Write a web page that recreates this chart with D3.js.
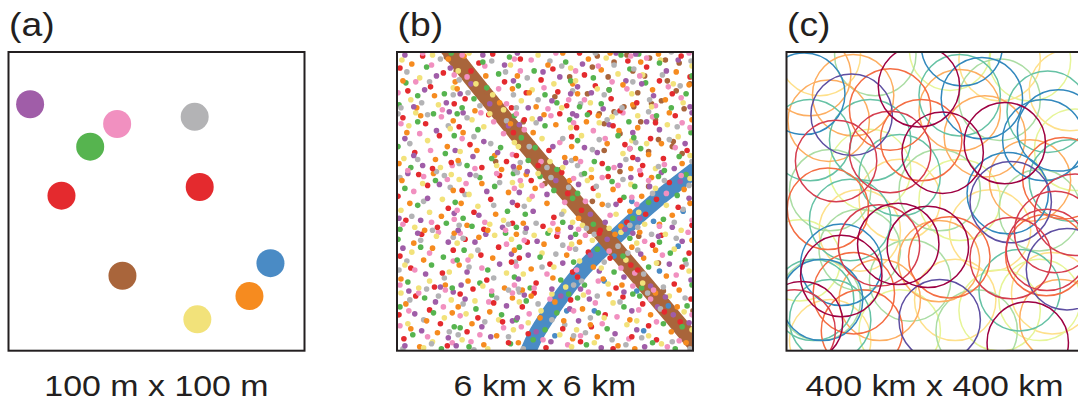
<!DOCTYPE html>
<html><head><meta charset="utf-8">
<script src="https://cdn.jsdelivr.net/npm/d3@7"></script>
<style>html,body{margin:0;padding:0;background:#fff;}svg{display:block}</style>
</head><body><svg id="chart" width="1078" height="402"></svg>
<script>
// ---------------- DATA ----------------
const panelLabels = ["(a)", "(b)", "(c)"];
const extentLabels = ["100 m x 100 m", "6 km x 6 km", "400 km x 400 km"];

// Panel (a): individual locations, metres (x east, y north) in a 100 m x 100 m plot
const aColorKeys = ["purple", "pink", "gray", "green", "red", "red", "brown", "blue", "orange", "yellow"];
const aX = [7.3, 36.7, 62.9, 27.6, 17.9, 64.6, 38.5, 88.5, 81.4, 63.8];
const aY = [82.5, 75.9, 78.3, 68.3, 51.9, 54.8, 25.1, 29.3, 18.3, 10.5];

// Panel (b): fixes per individual, in 20 m grid units (0-300 = 6 km), flat x,y pairs
const bRed = [7,12,33,41,51,5,19,55,44,27,2,36,71,19,98,48,113,8,82,33,64,57,107,29,127,44,151,3,168,22,139,58,176,51,133,17,186,9,211,36,229,54,197,24,238,14,219,2,249,47,263,11,287,29,298,52,271,39,255,25,
14,83,38,64,57,101,25,117,3,95,46,78,69,112,91,71,116,89,77,62,103,104,85,96,141,68,162,115,124,93,178,79,155,87,132,109,194,99,222,63,205,118,237,86,183,74,216,93,259,106,281,67,296,98,244,81,268,116,289,84,
9,131,31,166,52,143,22,177,41,124,1,155,78,139,104,176,117,128,66,161,95,152,88,122,136,171,159,134,173,158,122,146,148,125,167,179,199,163,233,129,187,141,214,175,226,151,206,121,252,137,276,169,299,126,263,152,285,144,247,177,
18,199,43,216,6,234,55,189,29,228,36,183,74,207,111,190,93,237,63,225,118,219,86,184,129,232,154,201,177,215,143,186,165,238,121,196,182,224,208,188,231,207,195,239,219,226,239,194,257,213,282,236,249,186,294,201,270,193,262,229,
11,261,47,279,26,296,58,248,3,284,34,265,83,289,69,253,109,270,97,298,116,244,75,281,131,259,158,283,172,246,146,272,125,293,163,260,190,277,217,253,234,291,201,266,226,241,185,299,253,285,279,258,297,275,243,249,266,271,288,296];
const bOrange = [23,4,9,47,41,18,56,38,30,30,14,22,88,6,62,44,117,53,101,15,76,27,94,39,145,33,123,8,160,49,178,12,136,55,169,30,203,14,188,42,236,31,215,57,224,5,196,26,241,2,278,19,262,58,293,8,257,36,284,44,
4,72,27,91,49,66,17,108,58,118,36,103,83,114,63,86,109,63,97,93,72,70,119,101,127,61,172,96,149,107,136,82,158,73,121,117,209,72,185,109,238,104,199,84,228,66,221,117,250,93,273,75,299,111,286,61,246,119,262,101,
13,148,45,135,28,121,5,171,57,161,37,178,71,126,113,159,86,168,100,137,65,148,92,121,152,148,128,128,175,171,140,163,163,122,131,177,184,133,219,162,197,174,236,140,208,147,227,125,266,127,248,155,291,162,279,136,258,174,297,148,
2,188,24,236,51,205,39,192,10,219,57,231,99,196,67,219,115,228,81,201,106,182,62,191,138,219,170,194,124,184,161,227,149,237,177,205,213,208,192,230,237,183,181,193,225,221,204,236,244,224,289,188,268,208,299,232,255,197,276,239,
20,244,52,293,6,271,38,256,59,270,15,288,68,296,104,249,90,276,117,263,79,241,61,263,122,276,168,299,141,245,178,268,153,287,134,259,207,282,183,258,229,267,194,293,239,247,216,299,272,252,247,290,296,267,259,262,283,280,265,298];
const bYellow = [36,9,11,27,55,51,27,3,48,33,4,58,66,11,103,31,79,50,118,21,92,2,70,37,133,28,157,57,177,4,124,49,165,16,146,40,182,21,219,48,200,8,233,26,189,56,210,33,268,7,243,30,291,39,276,55,255,15,299,21,
22,63,8,86,53,79,40,115,15,99,33,70,75,95,111,78,61,108,99,116,87,65,116,112,147,98,128,77,171,64,139,116,177,107,159,84,198,111,232,91,214,67,185,90,227,119,207,83,281,102,249,68,296,80,263,88,243,108,272,117,
46,152,18,124,4,141,33,139,55,177,26,168,108,131,82,145,63,172,117,169,94,127,73,157,134,152,169,140,126,166,155,121,143,178,178,129,204,156,188,126,237,167,222,137,193,171,215,123,245,139,288,121,262,163,297,173,273,146,251,127,
31,211,7,193,54,223,19,239,44,184,12,226,88,225,64,200,101,186,119,209,76,232,94,238,147,213,123,205,168,184,137,233,176,224,155,190,229,198,187,216,205,229,238,211,197,182,218,235,262,183,285,215,244,236,297,196,253,208,274,227,
42,247,5,292,23,274,57,264,14,252,36,297,62,281,97,257,115,287,80,268,108,242,73,299,159,268,126,251,176,284,143,297,137,262,167,244,196,249,224,278,181,271,212,294,238,258,203,263,249,277,290,249,267,292,280,268,258,245,299,286];
const bGreen = [16,16,45,2,3,44,28,53,58,24,37,38,80,42,115,7,64,23,96,56,106,36,73,4,162,38,138,11,121,31,174,57,150,21,131,50,230,44,192,6,213,22,183,53,239,57,204,38,282,2,246,55,270,27,294,45,259,8,289,24,
35,86,1,112,56,63,11,69,24,104,47,94,92,81,68,101,110,118,84,68,119,74,61,91,166,71,124,104,153,118,135,63,179,89,145,94,190,66,236,113,203,102,220,79,181,117,229,95,248,63,292,91,266,109,255,84,277,98,299,66,
39,171,8,163,50,128,21,146,59,149,3,122,84,174,112,140,67,133,99,165,76,125,118,178,178,153,130,137,145,175,159,161,121,124,168,129,218,170,183,158,199,127,230,154,190,178,239,133,241,165,270,132,293,177,255,149,284,156,265,175,
49,198,21,230,37,238,1,205,58,216,14,184,105,204,71,186,119,236,82,222,61,238,96,193,175,232,133,191,150,226,126,214,162,182,140,204,200,190,235,230,183,211,214,183,224,216,193,237,271,181,247,203,298,219,263,236,286,195,240,214,
9,269,48,258,30,285,55,299,2,247,21,256,91,264,114,295,66,244,103,278,87,290,78,253,150,257,171,290,123,266,139,281,162,249,176,271,215,262,185,245,236,283,199,274,227,297,207,248,293,258,252,269,278,244,266,289,245,298,299,276];
const bPurple = [52,13,25,20,8,5,39,49,18,37,57,59,60,5,86,24,111,45,69,52,95,14,117,30,141,19,175,42,129,56,156,9,122,33,166,55,221,17,195,52,184,30,238,40,207,3,230,59,264,44,296,28,251,4,280,36,243,21,272,54,
29,77,52,109,6,103,44,64,12,60,21,118,104,87,79,109,65,66,116,97,90,117,71,79,176,114,133,96,157,62,123,72,168,88,142,110,213,112,186,62,230,74,196,96,239,118,205,80,289,110,257,65,247,97,276,87,298,71,265,115,
24,131,58,138,11,178,43,167,31,153,2,133,91,160,62,121,117,149,74,177,107,124,83,136,124,159,161,171,138,140,176,124,152,157,131,123,237,174,211,129,184,167,222,147,196,137,231,122,256,165,279,124,246,133,296,153,268,179,287,170,
8,213,26,186,53,240,40,221,17,196,59,201,77,195,113,226,88,210,67,239,102,199,118,185,158,205,124,227,171,189,145,233,132,180,178,238,190,204,226,186,215,227,182,236,239,219,203,199,253,230,292,208,281,183,244,192,266,222,299,239,
28,262,54,284,8,297,40,276,17,245,50,249,75,268,109,287,64,258,94,248,118,271,87,297,148,280,133,244,176,258,122,299,165,275,157,251,232,271,188,288,209,243,222,299,197,259,183,265,260,256,285,292,248,268,297,245,273,281,242,298];
const bPink = [3,25,31,14,47,44,22,58,56,8,12,40,93,49,75,9,64,35,108,23,117,58,84,16,155,52,173,6,134,37,126,24,148,11,179,40,201,48,235,12,186,15,223,34,208,27,194,59,245,41,286,10,257,52,274,4,299,36,263,29,
18,81,42,119,57,90,3,66,33,98,49,61,64,118,96,60,72,91,111,107,86,83,119,66,152,77,121,85,175,103,163,119,139,63,129,111,182,81,215,100,239,65,191,116,227,83,204,70,241,78,295,119,269,96,251,110,283,76,260,61,
6,127,51,172,35,129,17,160,58,132,27,175,61,141,89,129,119,163,101,178,70,168,110,121,147,166,170,149,125,171,158,128,137,155,179,173,191,150,208,174,238,154,184,122,224,166,216,136,273,158,243,147,299,131,288,176,255,171,266,125,
34,201,4,228,56,186,23,218,45,235,11,181,66,213,98,230,117,197,79,183,108,218,85,239,129,222,165,209,146,190,179,229,121,238,156,236,199,221,229,239,186,190,236,203,211,213,220,184,259,235,282,204,246,181,297,224,271,187,289,229,
35,287,1,259,19,270,58,277,46,242,26,299,103,263,71,275,111,248,89,286,66,297,119,293,125,281,149,264,174,252,136,292,161,299,153,243,233,263,204,286,190,252,218,270,181,281,237,296,275,265,253,294,296,299,262,246,288,254,246,276];
const bGray = [42,55,6,2,27,31,53,19,13,51,35,7,113,14,67,47,89,29,101,53,62,16,78,1,128,2,170,26,143,47,157,31,124,59,179,15,196,33,232,6,191,18,218,11,226,49,203,55,248,13,292,53,267,42,279,9,254,58,297,2,
10,90,48,73,30,62,57,114,2,81,24,111,98,73,120,89,67,113,82,101,113,61,73,84,130,119,161,97,179,66,147,84,123,62,168,106,234,98,200,117,187,70,224,105,210,89,181,102,270,64,244,101,293,87,258,117,283,113,250,77,
15,135,36,121,54,164,3,174,27,150,48,176,98,146,69,157,113,127,80,176,104,169,63,126,141,128,174,164,156,174,129,145,167,137,122,179,214,146,236,126,187,177,202,165,229,172,192,123,259,158,290,142,244,124,271,171,296,166,281,129,
21,192,52,226,1,238,40,180,13,208,31,237,111,231,78,215,63,188,95,208,119,182,71,234,177,191,141,229,125,189,168,213,134,205,152,184,213,232,183,186,198,202,232,192,222,239,205,212,284,225,265,185,242,209,299,190,255,240,276,212,
57,257,25,249,10,280,44,293,33,270,4,244,118,257,63,272,84,246,96,291,110,280,72,259,178,261,132,274,155,291,143,252,121,244,167,286,186,248,220,287,239,270,201,299,210,257,228,244,287,266,240,283,269,277,256,252,298,291,278,300];
const bBrownFixes = [91,260,120,222,60,281,150,168,108,236,210,228,180,154,230,98,255,200,270,60,166,182,137,208,220,240,78,270,245,115,285,30,198,150,226,180,160,255,265,88,300,40,175,275,240,245,128,230,195,120,255,165,100,190,212,110,280,210,50,295,
198,285,215,262,233,297,251,276,268,251,286,289,205,238,226,218,244,259,262,232,279,205,297,268,210,201,239,281,256,294,274,271,291,243,220,290,247,230,265,212,283,261,193,258,230,245,272,292,300,222,214,275,258,248,236,203,289,198,203,296];
const bBlueFixes = [220,95,243,60,200,40,260,130,275,45,230,128,195,92,285,105,250,20,210,70,172,40,160,15,238,150,290,140,266,80];
// dense movement tracks (centre lines of the two bands)
const brownTrack = [44,315, 51,305, 135,202, 206,120, 297,13, 312,-5];
const blueTrack = [312,189, 264,152, 219,112, 185,78, 142,18, 129,-11];

// Panel (c): home-range circle centres per colour, km (0-400), radius in km
const homeRangeRadiusKm = 55;
const cYellow = [45,396, 288,389, 153,202, 228,68, 359,77, 59,14, 383,349, 275,161, 99,161];
const cYellowGreen = [221,403, 113,242, 288,54, 342,68, 234,202, 18,121, 329,389, 153,27, 390,269];
const cLightGreen = [120,396, 59,215, 257,27, 207,215, 342,188, 99,135, 45,68, 288,336, 167,94];
const cLightOrange = [57,308, 90,342, 268,287, 206,120, 234,322, 32,369, 329,228, 126,68, 370,41];
const cTeal = [32,282, 113,282, 36,68, 353,320, 153,235, 315,81, 234,342, 59,41, 383,228, 86,175];
const cOrange = [140,323, 56,190, 91,77, 220,125, 182,282, 351,128, 102,27, 374,231];
const cBlue = [264,338, 237,409, 299,211, 74,115, 367,295, 24,344, 48,68, 347,282];
const cPurple = [88,316, 207,41, 379,109, 303,199];
const cRed = [67,254, 140,266, 125,141, 303,124, 352,135, 363,159, 11,27, 390,182];
const cDarkRed = [179,354, 211,265, 295,278, 151,143, 191,139, 74,100, 326,11, 21,38];

// ---------------- STYLE ----------------
const pal = {red:"#e42a2e", orange:"#f68b1f", yellow:"#f2e27a", green:"#56b44f", purple:"#a05da8",
  pink:"#f190c0", gray:"#b3b3b5", brown:"#a9653b", blue:"#4a8bc5"};
const ink = "#231f20";
const fontFamily = '"Liberation Sans", Arial, Helvetica, sans-serif';
const panelLeft = [8.5, 397, 786.5], panelTop = 52, panelW = 296, panelH = 298.7;

const svg = d3.select("#chart");
const pairs = arr => d3.range(0, arr.length - 1, 2).map(i => [arr[i], arr[i + 1]]);

function stretchedText(x, y, str, anchor, size) {
  const t = svg.append("text").attr("x", x).attr("y", y)
    .attr("font-family", fontFamily).attr("font-size", size).attr("fill", ink)
    .attr("text-anchor", anchor).text(str);
  const w = t.node().getComputedTextLength();
  t.attr("textLength", w * 1.13).attr("lengthAdjust", "spacingAndGlyphs");
}

const defs = svg.append("defs");
panelLeft.forEach((l, i) => {
  defs.append("clipPath").attr("id", "clip" + i).append("rect")
    .attr("x", l).attr("y", panelTop).attr("width", panelW).attr("height", panelH);
});

// ---- Panel (a)
{
  const x = d3.scaleLinear().domain([0, 100]).range([panelLeft[0], panelLeft[0] + panelW]);
  const y = d3.scaleLinear().domain([0, 100]).range([panelTop + panelH, panelTop]);
  const g = svg.append("g").attr("clip-path", "url(#clip0)");
  g.selectAll("circle").data(d3.range(aX.length)).join("circle")
    .attr("cx", i => x(aX[i])).attr("cy", i => y(aY[i])).attr("r", 14)
    .attr("fill", i => pal[aColorKeys[i]]);
}

// ---- Panel (b)
{
  const x = d3.scaleLinear().domain([0, 300]).range([panelLeft[1], panelLeft[1] + panelW]);
  const y = d3.scaleLinear().domain([0, 300]).range([panelTop + panelH, panelTop]);
  const g = svg.append("g").attr("clip-path", "url(#clip1)");
  const line = d3.line().x(d => x(d[0])).y(d => y(d[1])).curve(d3.curveCatmullRom);
  g.append("path").attr("d", line(pairs(blueTrack))).attr("fill", "none")
    .attr("stroke", pal.blue).attr("stroke-width", 16);
  g.append("path").attr("d", line(pairs(brownTrack))).attr("fill", "none")
    .attr("stroke", pal.brown).attr("stroke-width", 17);
  const series = [
    {c: "red", p: pairs(bRed)}, {c: "gray", p: pairs(bGray)}, {c: "orange", p: pairs(bOrange)},
    {c: "purple", p: pairs(bPurple)}, {c: "yellow", p: pairs(bYellow)}, {c: "green", p: pairs(bGreen)},
    {c: "pink", p: pairs(bPink)}, {c: "brown", p: pairs(bBrownFixes)}, {c: "blue", p: pairs(bBlueFixes)}
  ];
  const dots = [];
  const maxLen = d3.max(series, s => s.p.length);
  for (let i = 0; i < maxLen; i++) series.forEach(s => { if (i < s.p.length) dots.push({p: s.p[i], c: s.c}); });
  g.selectAll("circle").data(dots).join("circle")
    .attr("cx", d => x(d.p[0])).attr("cy", d => y(d.p[1])).attr("r", 2.8)
    .attr("fill", d => pal[d.c]);
}

// ---- Panel (c)
{
  const x = d3.scaleLinear().domain([0, 400]).range([panelLeft[2], panelLeft[2] + panelW]);
  const y = d3.scaleLinear().domain([0, 400]).range([panelTop + panelH, panelTop]);
  const r = x(homeRangeRadiusKm) - x(0);
  const g = svg.append("g").attr("clip-path", "url(#clip2)");
  const groups = [
    ["#fee08b", cYellow], ["#e6f598", cYellowGreen], ["#abdda4", cLightGreen], ["#fdae61", cLightOrange],
    ["#66c2a5", cTeal], ["#f46d43", cOrange], ["#3288bd", cBlue], ["#5e4fa2", cPurple],
    ["#d53e4f", cRed], ["#9e0142", cDarkRed]
  ];
  groups.forEach(([col, arr]) => {
    g.append("g").selectAll("circle").data(pairs(arr)).join("circle")
      .attr("cx", d => x(d[0])).attr("cy", d => y(d[1])).attr("r", r)
      .attr("fill", "none").attr("stroke", col).attr("stroke-width", 1.5);
  });
}

// ---- frames and labels
panelLeft.forEach((l, i) => {
  svg.append("rect").attr("x", l).attr("y", panelTop).attr("width", panelW).attr("height", panelH)
    .attr("fill", "none").attr("stroke", ink).attr("stroke-width", 2);
  stretchedText(l + 0.5, 36, panelLabels[i], "start", 33);
  stretchedText(l + panelW / 2, 396, extentLabels[i], "middle", 30);
});
</script>
</body></html>
